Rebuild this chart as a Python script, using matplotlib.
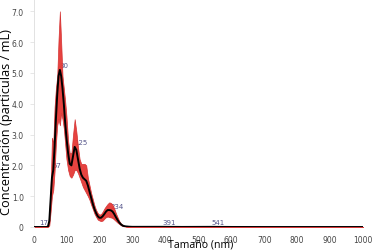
import numpy as np
import matplotlib.pyplot as plt

# particle size (nm) and concentration (mean with upper/lower band)
size = [0, 20, 40, 44, 48, 52, 56, 60, 64, 68, 72, 76, 80, 84, 88, 92, 96, 100,
        105, 110, 115, 120, 125, 130, 135, 140, 145, 150, 155, 160, 165, 170,
        175, 180, 185, 190, 195, 200, 205, 210, 215, 220, 225, 230, 235, 240,
        245, 250, 255, 260, 265, 270, 275, 280, 290, 300, 391, 450, 541, 600,
        700, 800, 900, 1000]
mean = [0, 0, 0, 0.02, 0.2, 0.9, 1.6, 1.85, 2.6, 3.5, 4.3, 4.9, 5.1, 4.9, 4.5,
        4.0, 3.4, 2.9, 2.4, 2.05, 2.0, 2.3, 2.6, 2.5, 2.2, 1.9, 1.7, 1.6, 1.55,
        1.5, 1.35, 1.15, 0.95, 0.75, 0.58, 0.45, 0.35, 0.3, 0.3, 0.35, 0.42,
        0.5, 0.55, 0.55, 0.54, 0.5, 0.42, 0.32, 0.23, 0.15, 0.09, 0.05, 0.03,
        0.02, 0.01, 0.005, 0.006, 0.002, 0.005, 0.001, 0, 0, 0, 0]
upper = [0, 0, 0, 0.05, 0.4, 1.3, 2.9, 2.7, 3.9, 4.5, 4.9, 6.1, 7.0, 6.0, 4.9,
         4.5, 4.1, 3.6, 2.8, 2.4, 2.4, 3.0, 3.5, 3.1, 2.6, 2.2, 2.05, 2.05,
         2.05, 2.0, 1.6, 1.35, 1.1, 0.9, 0.7, 0.55, 0.45, 0.4, 0.42, 0.5, 0.6,
         0.68, 0.75, 0.8, 0.78, 0.72, 0.6, 0.45, 0.32, 0.2, 0.12, 0.07, 0.04,
         0.02, 0.01, 0.005, 0.006, 0.002, 0.005, 0.001, 0, 0, 0, 0]
lower = [0, 0, 0, 0, 0.05, 0.5, 1.0, 1.2, 1.8, 2.7, 3.3, 3.5, 3.3, 3.7, 3.5,
         3.2, 2.7, 2.2, 1.85, 1.65, 1.6, 1.7, 1.85, 1.85, 1.75, 1.6, 1.45, 1.3,
         1.2, 1.1, 1.0, 0.88, 0.72, 0.58, 0.43, 0.33, 0.24, 0.21, 0.19, 0.21,
         0.27, 0.32, 0.34, 0.32, 0.31, 0.29, 0.24, 0.19, 0.14, 0.1, 0.06, 0.03,
         0.02, 0.01, 0.005, 0.003, 0.006, 0.002, 0.005, 0.001, 0, 0, 0, 0]

peak_x = [17, 57, 80, 125, 234, 391, 541]
peak_y = [0.0, 1.85, 5.1, 2.6, 0.55, 0.0, 0.0]
peak_txt = ['17', '57', '80', '125', '234', '391', '541']

fig = plt.figure(figsize=(3.73, 2.51), dpi=100)
ax = fig.add_axes([33.5 / 373, 23 / 251, 329.5 / 373, 228 / 251])

# peak labels go under the band, like in the original
for x, y, t in zip(peak_x, peak_y, peak_txt):
    ax.text(x, y + 0.05, t, fontsize=5, color='#55558a', ha='left', va='bottom', zorder=1)

ax.fill_between(size, lower, upper, color='#e53935', alpha=0.95, lw=0.5,
                edgecolor='#d32f2f', zorder=2)
ax.plot(size, mean, color='black', lw=1.4, zorder=3)

ax.set_xlim(0, 1000)
ax.set_ylim(0, 7.4)
ax.set_xticks(range(0, 1001, 100))
ax.set_yticks(range(0, 8))
ax.set_yticklabels(['0'] + ['%.1f' % v for v in range(1, 8)])
ax.tick_params(labelsize=5.5, colors='#444444', length=3, width=0.5)
ax.tick_params(axis='x', length=0, pad=6)
ax.tick_params(axis='y', color='#dddddd', pad=4)

for s in ['top', 'right', 'bottom']:
    ax.spines[s].set_visible(False)
ax.spines['left'].set_color('#dddddd')
ax.spines['left'].set_linewidth(0.6)

ax.set_xlabel('Tamaño (nm)', fontsize=7.6, family='Open Sans')
ax.set_ylabel('Concentración (partículas / mL)', fontsize=9.2, family='Open Sans')
ax.xaxis.set_label_coords(0.508, -0.05)
ax.yaxis.set_label_coords(-0.063, 0.463)

fig.savefig('out.png', dpi=100)
